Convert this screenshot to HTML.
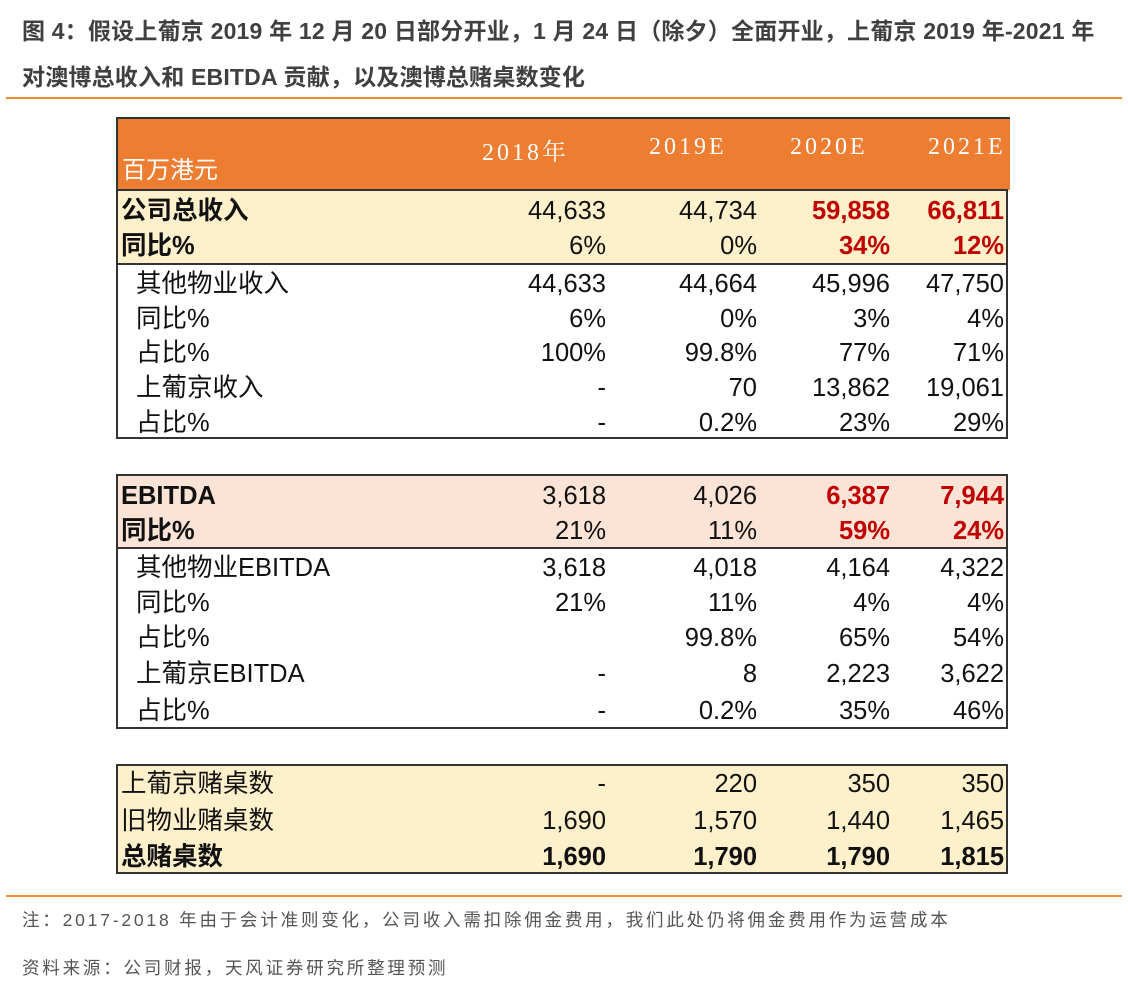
<!DOCTYPE html>
<html><head><meta charset="utf-8">
<style>
body{margin:0;width:1128px;height:991px;background:#fff;position:relative;overflow:hidden;font-family:"Liberation Sans","Noto Sans CJK SC",sans-serif;}
.title{position:absolute;left:22px;font-size:23px;font-weight:bold;color:#404040;white-space:nowrap;letter-spacing:0.2px;}
.rule{position:absolute;left:6px;width:1116px;height:2px;background:#f08a2c;}
.note{position:absolute;left:22px;font-size:17.5px;color:#555;white-space:nowrap;letter-spacing:2.8px;}
.box{position:absolute;left:116px;width:892px;border:2px solid #333;box-sizing:border-box;}
.cell{position:absolute;font-size:25.5px;color:#111;white-space:nowrap;line-height:30px;}
.hdr{position:absolute;font-family:"Liberation Serif","Noto Serif CJK SC",serif;font-size:24px;color:#fff;letter-spacing:3px;}
</style></head><body>
<div class="title" style="top:12px">图 4：假设上葡京 2019 年 12 月 20 日部分开业，1 月 24 日（除夕）全面开业，上葡京 2019 年-2021 年</div>
<div class="title" style="top:58px">对澳博总收入和 EBITDA 贡献，以及澳博总赌桌数变化</div>
<div class="rule" style="top:97px"></div>

<div style="position:absolute;left:116px;top:117px;width:894px;height:73px;background:#ed7d31;border-top:2px solid #333;border-left:2px solid #333;box-sizing:border-box;"></div>
<div class="hdr" style="left:122px;top:150px;font-family:'Liberation Sans','Noto Sans CJK SC',sans-serif;letter-spacing:0">百万港元</div>
<div class="hdr" style="left:482px;top:132px">2018年</div>
<div class="hdr" style="left:649px;top:134px">2019E</div>
<div class="hdr" style="left:790px;top:134px">2020E</div>
<div class="hdr" style="left:928px;top:134px">2021E</div>

<div class="box" style="top:189px;height:76px;background:#fff0cc"></div>
<div class="box" style="top:263px;height:176px;border-top:none"></div>
<div class="box" style="top:474px;height:75px;background:#fbe3d6"></div>
<div class="box" style="top:547px;height:182px;border-top:none"></div>
<div class="box" style="top:764px;height:110px;background:#fff0cc"></div>

<div id="cells"></div>

<div class="rule" style="top:895px"></div>
<div class="note" style="top:907px">注：2017-2018 年由于会计准则变化，公司收入需扣除佣金费用，我们此处仍将佣金费用作为运营成本</div>
<div class="note" style="top:955px">资料来源：公司财报，天风证券研究所整理预测</div>

<script>
const labels=["公司总收入","同比%","其他物业收入","同比%","占比%","上葡京收入","占比%","EBITDA","同比%","其他物业EBITDA","同比%","占比%","上葡京EBITDA","占比%","上葡京赌桌数","旧物业赌桌数","总赌桌数"];
const v2018=["44,633","6%","44,633","6%","100%","-","-","3,618","21%","3,618","21%","","-","-","-","1,690","1,690"];
const v2019=["44,734","0%","44,664","0%","99.8%","70","0.2%","4,026","11%","4,018","11%","99.8%","8","0.2%","220","1,570","1,790"];
const v2020=["59,858","34%","45,996","3%","77%","13,862","23%","6,387","59%","4,164","4%","65%","2,223","35%","350","1,440","1,790"];
const v2021=["66,811","12%","47,750","4%","71%","19,061","29%","7,944","24%","4,322","4%","54%","3,622","46%","350","1,465","1,815"];
const rowY=[211,246,284,319,353,388,423,496,531,568,603,638,674,711,784,821,857];
const boldLabelRows=[0,1,7,8,16];
const boldValueRows=[16];
const redRows=[0,1,7,8];
const indentRows=[2,3,4,5,6,9,10,11,12,13];
const colRight=[606,757,890,1004];
const c=document.getElementById('cells');
function add(text,name,style){const d=document.createElement('div');d.className='cell';d.textContent=text;d.style.cssText=style;


c.appendChild(d);}
labels.forEach((l,i)=>{
 const y=rowY[i]-15;
 add(l,'row-label-'+i,`left:${indentRows.includes(i)?136:121}px;top:${y}px;${boldLabelRows.includes(i)?'font-weight:bold;':''}`);
 [v2018,v2019,v2020,v2021].forEach((arr,j)=>{
  const red=redRows.includes(i)&&j>=2;
  const b=red||boldValueRows.includes(i);
  add(arr[i],'value-r'+i+'-c'+j,`right:${1128-colRight[j]}px;top:${y}px;${b?'font-weight:bold;':''}${red?'color:#c00000;':''}`);
 });
});
</script>
</body></html>
